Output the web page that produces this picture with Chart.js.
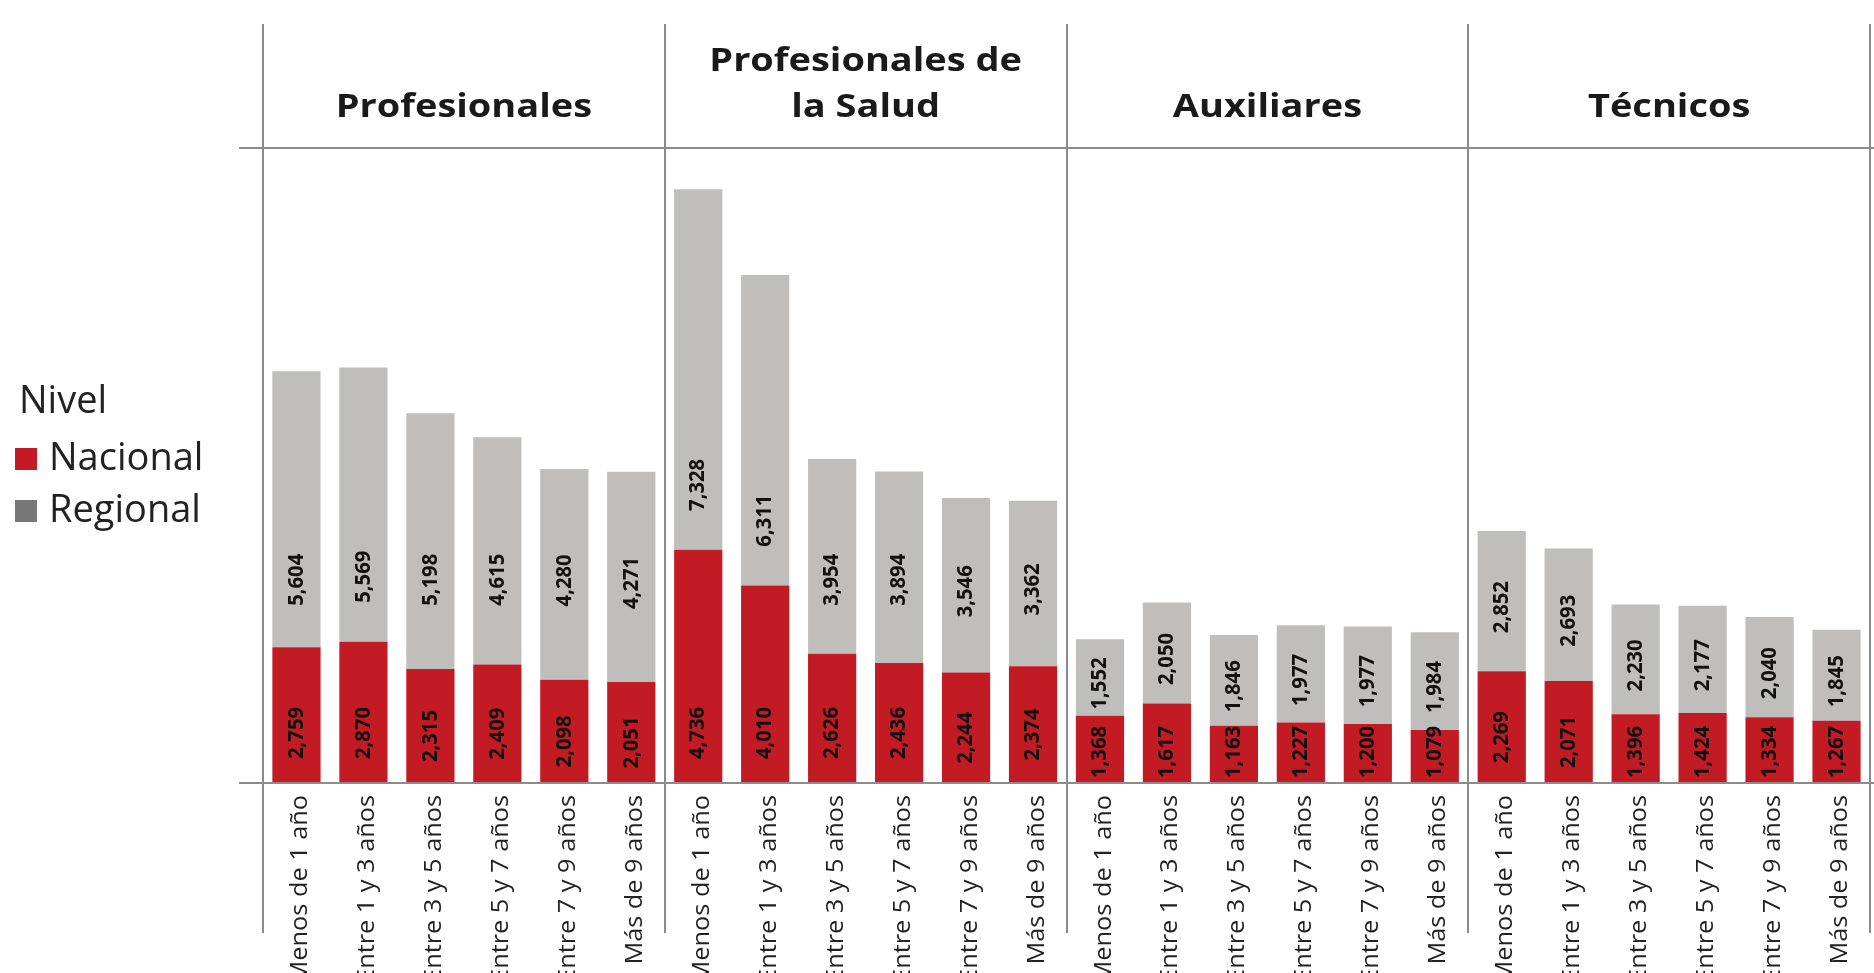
<!DOCTYPE html>
<html lang="es">
<head>
<meta charset="utf-8">
<title>Nivel por antigüedad</title>
<script src="https://cdn.jsdelivr.net/npm/chart.js@4.4.1/dist/chart.umd.min.js"></script>
<style>
  html, body { margin: 0; padding: 0; background: #fff; overflow: hidden; }
  #wrap { width: 1874px; height: 973px; }
</style>
</head>
<body>
<div id="wrap"><canvas id="chart" width="1874" height="973"></canvas></div>
<script>
// Categories (antigüedad) repeated inside each panel
const categories = ['Menos de 1 año', 'Entre 1 y 3 años', 'Entre 3 y 5 años', 'Entre 5 y 7 años', 'Entre 7 y 9 años', 'Más de 9 años'];

// Panel headers (one entry per panel, split into lines)
const groups = [['Profesionales'], ['Profesionales de', 'la Salud'], ['Auxiliares'], ['Técnicos']];

// Series values, panel after panel
const nacional = [
    2759, 2870, 2315, 2409, 2098, 2051,
    4736, 4010, 2626, 2436, 2244, 2374,
    1368, 1617, 1163, 1227, 1200, 1079,
    2269, 2071, 1396, 1424, 1334, 1267
];
const regional = [
    5604, 5569, 5198, 4615, 4280, 4271,
    7328, 6311, 3954, 3894, 3546, 3362,
    1552, 2050, 1846, 1977, 1977, 1984,
    2852, 2693, 2230, 2177, 2040, 1845
];

const seriesNames = ['Nacional', 'Regional'];
const legendTitle = 'Nivel';
const yMax = 12900;

const RED = '#C21B24';
const GRAY = '#BFBEBC';
const LEGEND_GRAY = '#777777';
const LINE = '#8C8C8C';
const TEXT = '#1A1A1A';
const FONT = '"Open Sans", "Noto Sans", sans-serif';

const fmt = v => v.toLocaleString('en-US');

// Rotated text, reading bottom to top; stretch works along the text
function drawVertical(ctx, text, x, y, stretch) {
    ctx.save();
    ctx.translate(x, y);
    ctx.rotate(-Math.PI / 2);
    ctx.scale(stretch, 1);
    ctx.fillText(text, 0, 0);
    ctx.restore();
}

function strokeLine(ctx, x1, y1, x2, y2) {
    ctx.beginPath();
    ctx.moveTo(x1, y1);
    ctx.lineTo(x2, y2);
    ctx.stroke();
}

// Panel frame, headers, value labels, tick labels and legend
const facetPlugin = {
    id: 'facets',
    afterDatasetsDraw(chart) {
        const { ctx, chartArea, scales: { x } } = chart;
        const n = categories.length;
        const base = chartArea.bottom;
        const plotH = chartArea.bottom - chartArea.top;

        // Value labels
        ctx.save();
        ctx.fillStyle = '#111';
        ctx.font = `bold 22px ${FONT}`;
        ctx.textAlign = 'center';
        ctx.textBaseline = 'middle';
        const half = 25;

        chart.getDatasetMeta(0).data.forEach((bar, i) => {
            const mid = (bar.y + bar.base) / 2;
            const cy = Math.min(Math.max(mid + 10, base - 25 - half), base - 6 - half);
            drawVertical(ctx, fmt(nacional[i]), bar.x, cy, 0.92);
        });
        chart.getDatasetMeta(1).data.forEach((bar, i) => {
            const mid = (bar.y + bar.base) / 2;
            const cy = Math.max(mid + 6, Math.min(base - 0.32 * plotH, bar.base - 65));
            drawVertical(ctx, fmt(regional[i]), bar.x, cy, 0.92);
        });

        // Category labels under the bars
        ctx.fillStyle = '#222';
        ctx.font = `23px ${FONT}`;
        ctx.textAlign = 'right';
        x.getLabels().forEach((lab, i) => {
            drawVertical(ctx, lab, x.getPixelForValue(i) + 4, base + 12, 1.1);
        });
        ctx.restore();

        // Frame lines
        ctx.save();
        ctx.strokeStyle = LINE;
        ctx.lineWidth = 2;
        [chartArea.top, chartArea.bottom].forEach(y => strokeLine(ctx, chartArea.left - 24, y, chart.width, y));
        for (let g = 0; g <= groups.length; g++) {
            const px = Math.round(x.getPixelForValue(g * n - 0.5));
            strokeLine(ctx, px, 24, px, 933);
        }
        ctx.restore();
    },
    afterDraw(chart) {
        const { ctx, scales: { x } } = chart;
        const n = categories.length;

        // Panel headers
        ctx.save();
        ctx.fillStyle = TEXT;
        ctx.font = `bold 33px ${FONT}`;
        ctx.textAlign = 'center';
        ctx.textBaseline = 'alphabetic';
        groups.forEach((lines, g) => {
            const cx = (x.getPixelForValue(g * n - 0.5) + x.getPixelForValue(g * n + n - 0.5)) / 2;
            lines.forEach((txt, k) => {
                const y = 117 - (lines.length - 1 - k) * 46;
                ctx.save();
                ctx.translate(cx, y);
                ctx.scale(1.15, 1);
                ctx.fillText(txt, 0, 0);
                ctx.restore();
            });
        });

        // Legend
        ctx.font = `38px ${FONT}`;
        ctx.textAlign = 'left';
        ctx.fillStyle = '#222';
        ctx.fillText(legendTitle, 19, 413);
        const swatches = [RED, LEGEND_GRAY];
        seriesNames.forEach((name, k) => {
            const yb = 470 + k * 52;
            ctx.fillStyle = swatches[k];
            ctx.fillRect(15, yb - 22, 22, 22);
            ctx.fillStyle = '#222';
            ctx.fillText(name, 49, yb);
        });
        ctx.restore();
    }
};

new Chart(document.getElementById('chart'), {
    type: 'bar',
    data: {
        labels: groups.flatMap(() => categories),
        datasets: [
            { label: seriesNames[0], data: nacional, backgroundColor: RED, barPercentage: 0.72, categoryPercentage: 1 },
            { label: seriesNames[1], data: regional, backgroundColor: GRAY, barPercentage: 0.72, categoryPercentage: 1 }
        ]
    },
    options: {
        responsive: false,
        animation: false,
        devicePixelRatio: 1,
        layout: { padding: { left: 263, top: 148, right: 4, bottom: 0 } },
        plugins: {
            legend: { display: false },
            tooltip: { enabled: false }
        },
        scales: {
            x: {
                stacked: true,
                offset: true,
                grid: { display: false, drawTicks: false },
                border: { display: false },
                ticks: { display: false },
                afterFit(scale) { scale.height = 190; }
            },
            y: { stacked: true, display: false, min: 0, max: yMax }
        }
    },
    plugins: [facetPlugin]
});
</script>
</body>
</html>
